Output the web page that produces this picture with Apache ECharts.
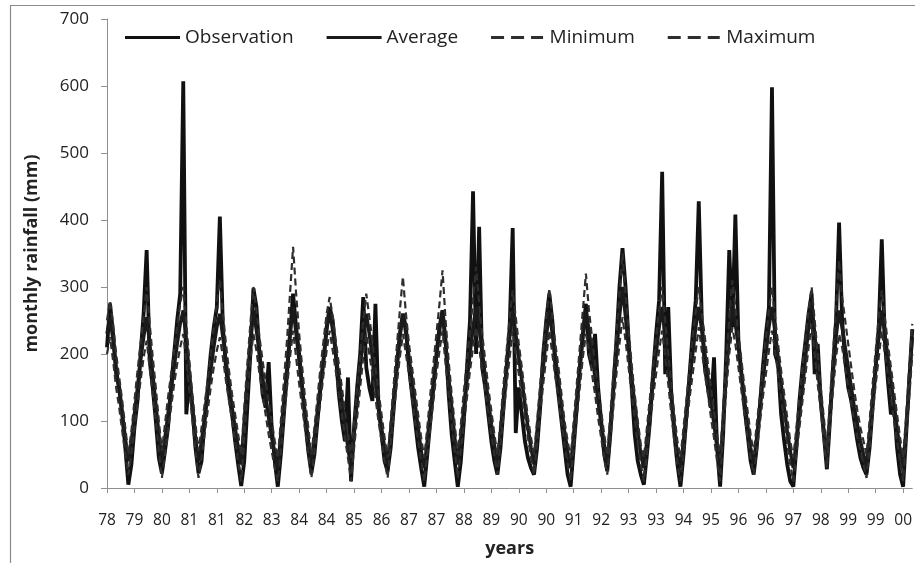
<!DOCTYPE html>
<html>
<head>
<meta charset="utf-8">
<script src="https://cdn.jsdelivr.net/npm/echarts@6/dist/echarts.min.js"></script>
<style>
  html, body { margin: 0; padding: 0; background: #fff; }
  #chart { width: 915px; height: 563px; }
</style>
</head>
<body>
<div id="chart"></div>
<script>
// Tick labels shown every 9 months
const tickLabels = ["78","79","80","81","81","82","83","84","84","85","86","87","87","88","89","90","90","91","92","93","93","94","95","96","96","97","98","99","99","00"];
const seriesNames = ["Observation", "Average", "Minimum", "Maximum"];

// Monthly values (mm), one per month
const observation = [
  210, 275, 230, 170, 150, 110, 60, 5, 35, 90,
  130, 200, 260, 355, 190, 150, 100, 45, 22, 55,
  90, 150, 200, 250, 290, 607, 110, 165, 120, 60,
  22, 40, 100, 150, 200, 240, 270, 405, 240, 180,
  140, 110, 70, 35, 3, 40, 120, 200, 298, 270,
  200, 140, 120, 188, 90, 40, 2, 50, 110, 170,
  230, 290, 240, 200, 150, 100, 55, 22, 50, 100,
  150, 190, 240, 270, 250, 200, 140, 100, 70, 165,
  10, 90, 150, 200, 285, 180, 150, 130, 275, 120,
  80, 40, 25, 60, 120, 180, 230, 260, 240, 180,
  140, 100, 60, 30, 2, 50, 100, 150, 200, 240,
  265, 220, 140, 80, 40, 2, 40, 100, 180, 250,
  443, 200, 390, 180, 150, 110, 70, 40, 20, 60,
  120, 180, 240, 388, 82, 150, 110, 70, 45, 30,
  20, 60, 120, 200, 250, 290, 250, 180, 140, 100,
  60, 20, 2, 60, 120, 180, 230, 275, 200, 180,
  230, 150, 100, 50, 25, 80, 150, 220, 300, 358,
  300, 220, 150, 80, 40, 20, 5, 50, 100, 170,
  230, 280, 472, 170, 270, 140, 80, 35, 2, 50,
  110, 170, 230, 280, 428, 250, 180, 150, 120, 195,
  60, 2, 80, 200, 355, 240, 408, 220, 170, 120,
  80, 40, 20, 60, 120, 180, 230, 270, 598, 200,
  185, 110, 70, 35, 10, 2, 60, 130, 180, 220,
  260, 290, 170, 215, 130, 80, 28, 100, 180, 250,
  396, 250, 190, 150, 130, 100, 70, 45, 30, 20,
  60, 120, 180, 240, 371, 220, 160, 110, 124, 60,
  20, 2, 80, 160, 237
];

const average = [
  230, 255, 220, 180, 145, 110, 75, 40,
  70, 110, 150, 190, 225, 255,
  215, 170, 125, 80, 40,
  75, 110, 145, 180, 215, 245, 265,
  220, 170, 120, 75, 40,
  70, 105, 140, 175, 210, 240, 260,
  225, 190, 155, 120, 90, 60, 35,
  100, 160, 220, 265,
  235, 200, 165, 135, 105, 75, 50, 30,
  80, 130, 180, 230, 270,
  230, 190, 150, 110, 70, 35,
  75, 115, 155, 195, 235, 265,
  235, 200, 165, 130, 95, 60, 30,
  80, 130, 180, 225, 260,
  230, 195, 160, 125, 90, 60, 35,
  85, 135, 180, 225, 260,
  230, 195, 160, 125, 90, 55, 30,
  70, 115, 155, 195, 235, 265,
  215, 165, 120, 75, 35,
  75, 120, 160, 200, 240, 270,
  240, 205, 165, 130, 95, 65, 35,
  85, 135, 180, 225, 265,
  230, 195, 160, 125, 90, 60, 35,
  85, 135, 180, 225, 265,
  230, 195, 160, 120, 85, 55, 30,
  80, 130, 180, 225, 265,
  235, 200, 165, 130, 95, 65, 35,
  90, 145, 200, 255, 300,
  255, 210, 165, 125, 85, 50, 30,
  70, 115, 160, 200, 240, 270,
  225, 180, 135, 90, 50, 30,
  70, 115, 160, 200, 240, 270,
  235, 200, 165, 130, 95, 60, 30,
  100, 170, 230, 275,
  245, 210, 170, 130, 95, 60, 35,
  75, 115, 160, 200, 240, 270,
  235, 195, 155, 120, 85, 55, 30,
  70, 110, 150, 195, 240, 275,
  230, 180, 135, 85, 45,
  110, 170, 225, 265,
  240, 210, 180, 150, 120, 95, 70, 50, 30,
  80, 130, 180, 225, 265,
  230, 195, 160, 125, 90, 55, 30,
  90, 160, 225
];

const minimum = [
  200, 225, 190, 150, 120, 85, 50, 20,
  50, 90, 125, 160, 195, 220,
  180, 140, 100, 55, 15,
  50, 85, 120, 155, 185, 210, 230,
  190, 145, 100, 55, 15,
  45, 80, 115, 150, 180, 205, 225,
  195, 160, 130, 100, 70, 40, 10,
  75, 135, 190, 230,
  205, 170, 140, 110, 80, 55, 30, 10,
  55, 105, 150, 195, 235,
  195, 155, 120, 85, 50, 15,
  55, 95, 130, 170, 205, 235,
  205, 175, 140, 110, 75, 45, 10,
  60, 105, 150, 195, 230,
  200, 170, 135, 100, 70, 40, 15,
  65, 110, 155, 195, 230,
  200, 170, 135, 100, 70, 40, 10,
  50, 90, 130, 170, 205, 235,
  185, 140, 95, 55, 15,
  55, 95, 135, 175, 210, 240,
  210, 175, 145, 110, 80, 50, 20,
  65, 110, 155, 195, 235,
  200, 170, 135, 105, 75, 45, 20,
  65, 110, 155, 195, 235,
  200, 165, 135, 100, 65, 35, 10,
  60, 105, 150, 195, 230,
  205, 170, 140, 105, 75, 45, 20,
  70, 120, 170, 215, 255,
  220, 180, 140, 105, 65, 35, 10,
  50, 95, 135, 170, 205, 235,
  195, 155, 110, 70, 35, 10,
  50, 95, 135, 170, 205, 240,
  205, 170, 140, 105, 75, 40, 10,
  80, 145, 200, 240,
  215, 180, 145, 110, 75, 45, 20,
  55, 95, 135, 170, 205, 235,
  205, 170, 135, 100, 65, 35, 10,
  50, 90, 130, 170, 210, 245,
  200, 155, 115, 70, 30,
  90, 145, 195, 230,
  210, 180, 150, 125, 100, 75, 55, 35, 15,
  60, 110, 155, 195, 235,
  200, 170, 135, 100, 70, 40, 10,
  75, 135, 200
];

const maximum = [
  250, 280, 245, 200, 165, 130, 90, 50,
  85, 130, 175, 215, 255, 300,
  245, 195, 150, 100, 55,
  95, 135, 170, 205, 240, 275, 300,
  245, 190, 140, 95, 55,
  90, 125, 160, 200, 240, 275, 310,
  260, 215, 175, 140, 110, 80, 50,
  120, 185, 245, 300,
  265, 225, 190, 160, 130, 100, 70, 45,
  100, 160, 220, 290, 360,
  290, 230, 180, 130, 90, 50,
  90, 135, 180, 220, 260, 285,
  255, 220, 185, 150, 115, 80, 45,
  100, 150, 200, 250, 290,
  255, 220, 180, 145, 110, 75, 45,
  100, 155, 210, 265, 315,
  260, 215, 180, 145, 110, 75, 45,
  90, 140, 185, 230, 275, 325,
  250, 190, 140, 95, 50,
  95, 145, 190, 235, 280, 330,
  275, 230, 190, 150, 115, 80, 50,
  100, 155, 205, 255, 295,
  255, 215, 180, 140, 105, 75, 50,
  100, 155, 205, 255, 298,
  255, 215, 180, 140, 100, 70, 45,
  100, 155, 210, 265, 320,
  265, 225, 185, 150, 115, 80, 50,
  110, 170, 230, 290, 350,
  290, 235, 185, 140, 100, 65, 45,
  90, 135, 180, 225, 265, 300,
  250, 200, 155, 110, 70, 45,
  90, 135, 180, 225, 265, 300,
  260, 225, 185, 150, 115, 80, 45,
  120, 190, 255, 310,
  270, 230, 190, 150, 115, 80, 50,
  95, 135, 180, 225, 265, 300,
  255, 215, 175, 140, 105, 70, 45,
  90, 135, 180, 225, 265, 300,
  250, 200, 150, 105, 60,
  130, 200, 270, 340,
  285, 250, 215, 180, 145, 115, 90, 70, 50,
  100, 155, 205, 255, 295,
  255, 215, 180, 145, 110, 75, 45,
  110, 180, 245
];

function pairs(arr) { return arr.map((v, i) => [i, v]); }

const chart = echarts.init(document.getElementById('chart'), null, { renderer: 'canvas' });
const FONT = "'Open Sans', 'DejaVu Sans', sans-serif";
const TXT = '#222222';
const SOLID_ICON = 'path://M0,0H55V3H0Z';
const DASH_ICON = 'path://M0,0H13V3H0Z M20,0H33V3H20Z M40,0H52V3H40Z';

chart.setOption({
  animation: false,
  backgroundColor: '#ffffff',
  graphic: [{
    type: 'polyline',
    silent: true,
    shape: { points: [[10.5, 600], [10.5, 5.5], [1000, 5.5]] },
    style: { stroke: '#8c8c8c', lineWidth: 1.2, fill: null }
  }],
  legend: {
    data: [
      { name: seriesNames[0], icon: SOLID_ICON },
      { name: seriesNames[1], icon: SOLID_ICON },
      { name: seriesNames[2], icon: DASH_ICON },
      { name: seriesNames[3], icon: DASH_ICON }
    ],
    left: 125,
    top: 28,
    padding: 0,
    itemWidth: 55,
    itemHeight: 3,
    itemGap: 33,
    textStyle: { fontFamily: FONT, fontSize: 19, color: TXT }
  },
  grid: { left: 107, right: 0, top: 19, bottom: 69, containLabel: false },
  xAxis: {
    type: 'value',
    min: 0,
    max: 264,
    interval: 9,
    name: 'years',
    nameLocation: 'middle',
    nameGap: 52,
    nameTextStyle: { fontFamily: FONT, fontSize: 18, fontWeight: 'bold', color: TXT },
    axisLine: { show: true, lineStyle: { color: '#8f8f8f', width: 1 } },
    axisTick: { show: true, length: 5, lineStyle: { color: '#8f8f8f' } },
    splitLine: { show: false },
    axisLabel: {
      fontFamily: FONT, fontSize: 15.5, color: TXT, margin: 25,
      showMaxLabel: false,
      formatter: function (v) {
        if (v % 9 !== 0) return '';
        const k = v / 9;
        return tickLabels[k] !== undefined ? tickLabels[k] : '';
      }
    }
  },
  yAxis: {
    type: 'value',
    min: 0,
    max: 700,
    interval: 100,
    name: 'monthly rainfall (mm)',
    nameLocation: 'middle',
    nameGap: 66,
    nameTextStyle: { fontFamily: FONT, fontSize: 18, fontWeight: 'bold', color: TXT },
    axisLine: { show: true, lineStyle: { color: '#8f8f8f', width: 1 } },
    axisTick: { show: true, length: 6, lineStyle: { color: '#8f8f8f' } },
    splitLine: { show: false },
    axisLabel: { fontFamily: FONT, fontSize: 17, color: TXT, margin: 18 }
  },
  series: [
    {
      name: 'Observation', type: 'line', symbol: 'none',
      data: pairs(observation),
      lineStyle: { color: '#111111', width: 3.8 },
      itemStyle: { color: '#111111' }
    },
    {
      name: 'Average', type: 'line', symbol: 'none',
      data: pairs(average),
      lineStyle: { color: '#1a1a1a', width: 3.5 },
      itemStyle: { color: '#1a1a1a' }
    },
    {
      name: 'Minimum', type: 'line', symbol: 'none',
      data: pairs(minimum),
      lineStyle: { color: '#2e2e2e', width: 2.2, type: [7, 4] },
      itemStyle: { color: '#2e2e2e' }
    },
    {
      name: 'Maximum', type: 'line', symbol: 'none',
      data: pairs(maximum),
      lineStyle: { color: '#2e2e2e', width: 2.2, type: [7, 4] },
      itemStyle: { color: '#2e2e2e' }
    }
  ]
});
</script>
</body>
</html>
